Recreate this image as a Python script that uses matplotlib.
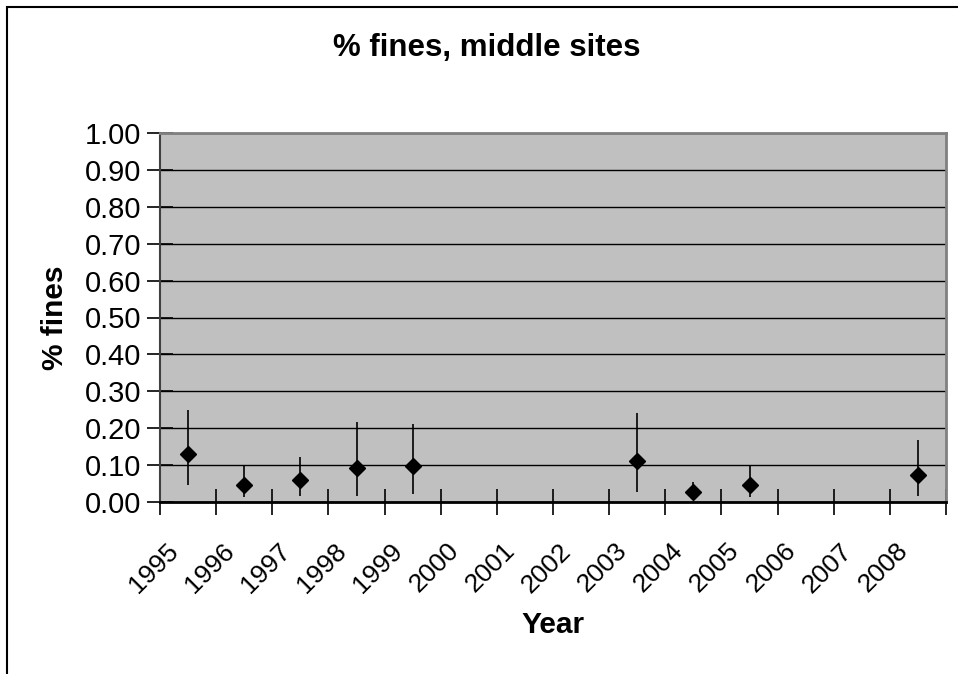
import numpy as np
import matplotlib.pyplot as plt
from matplotlib.patches import Rectangle
from matplotlib.transforms import ScaledTranslation

plt.rcParams['font.family'] = ['Liberation Sans', 'DejaVu Sans']

years = [str(y) for y in range(1995, 2009)]
# mean % fines per year (None = no sample)
mean_vals = [0.130, 0.046, 0.059, 0.091, 0.097, None, None, None, 0.111, 0.026, 0.046, None, None, 0.073]
upper_vals = [0.249, 0.098, 0.123, 0.218, 0.211, None, None, None, 0.241, 0.053, 0.101, None, None, 0.167]
lower_vals = [0.046, 0.013, 0.017, 0.015, 0.023, None, None, None, 0.028, 0.005, 0.013, None, None, 0.015]

fig = plt.figure(figsize=(9.58, 6.74), dpi=100)
ax = fig.add_axes([160 / 958, 1 - 502 / 674, 786 / 958, 369 / 674])

# outer chart border (cut off at right and bottom)
fig.patches.append(Rectangle((7 / 958, -0.1), 1.2, (674 - 7) / 674 + 0.1,
                             transform=fig.transFigure, fill=False,
                             edgecolor='black', linewidth=1.5, clip_on=False))

ax.set_facecolor('#C0C0C0')
for side in ['top', 'right']:
    ax.spines[side].set_color('#808080')
    ax.spines[side].set_linewidth(2)
ax.spines['left'].set_color('#404040')
ax.spines['left'].set_linewidth(1.5)
ax.spines['bottom'].set_color('black')
ax.spines['bottom'].set_linewidth(2)

idx = [i for i, m in enumerate(mean_vals) if m is not None]
x = np.array(idx) + 0.5
m = np.array([mean_vals[i] for i in idx])
up = np.array([upper_vals[i] for i in idx]) - m
lo = m - np.array([lower_vals[i] for i in idx])

ax.errorbar(x, m, yerr=[lo, up], fmt='D', color='black', ecolor='black',
            markersize=8, elinewidth=1.2, capsize=0, zorder=3)

ax.set_xlim(0, len(years))
ax.set_ylim(0, 1.0)
ax.set_yticks(np.arange(0, 1.01, 0.1))
ax.set_yticklabels([f'{v:.2f}' for v in np.arange(0, 1.01, 0.1)])
ax.yaxis.grid(True, color='black', linewidth=1)
ax.set_axisbelow(True)

ax.set_xticks(np.arange(0, len(years) + 1))
ax.set_xticklabels([])
ax.set_xticks(np.arange(len(years)) + 0.5, minor=True)
ax.set_xticklabels(years, minor=True, rotation=45, ha='right', va='baseline',
                   rotation_mode='anchor', fontsize=19)
ax.tick_params(axis='x', which='minor', length=0, pad=36)
ax.tick_params(axis='x', which='major', direction='inout', length=19, width=1.2)
ax.tick_params(axis='y', direction='inout', length=19, width=1.2, labelsize=21, pad=4)

shift = ScaledTranslation(-9 / 100, 0, fig.dpi_scale_trans)
for lbl in ax.get_xticklabels(minor=True):
    lbl.set_transform(lbl.get_transform() + shift)

ax.set_xlabel('Year', fontsize=21.5, fontweight='bold')
ax.xaxis.set_label_coords(0.5, (502 - 611) / 369)
ax.set_ylabel('% fines', fontsize=21.5, fontweight='bold')
ax.yaxis.set_label_coords((69 - 160) / 786, 0.5)
fig.text(487 / 958, 1 - 48 / 674, '% fines, middle sites', ha='center', va='center',
         fontsize=22.5, fontweight='bold')

fig.savefig('out.png', dpi=100)
